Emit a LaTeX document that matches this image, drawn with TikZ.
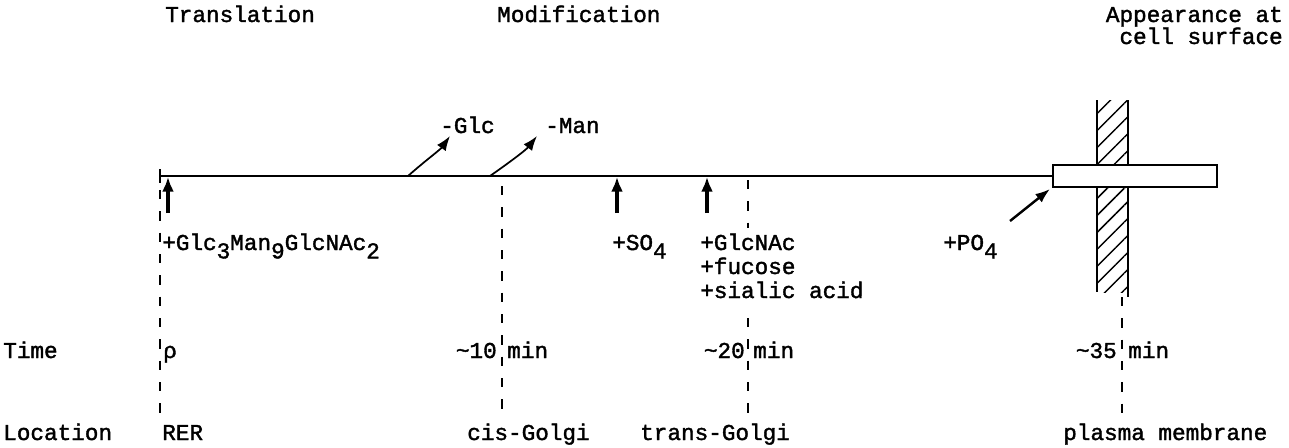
\documentclass[tikz,border=0pt]{standalone}
\usepackage{fontspec}
\newfontfamily\twfont[FakeBold=1.6]{Liberation Mono}
\usetikzlibrary{arrows.meta,patterns.meta}
\newcommand{\lowsub}[1]{\raisebox{-0.7ex}{#1}}

\begin{document}
\begin{tikzpicture}[x=0.75pt,y=-0.75pt,>={Latex[length=11pt,width=8pt]},
  lbl/.style={font=\twfont\fontsize{17}{20}\selectfont, inner sep=0pt, anchor=base west},
  guide/.style={dash pattern=on 7pt off 9pt, line width=0.8pt},
  uparrow/.style={-{Latex[length=11pt,width=9pt]}, line width=2.6pt},
  curvarrow/.style={->, line width=1.3pt}]

\useasboundingbox (0,0) rectangle (1289,447);

% Headings
\node[lbl] (transl) at (165,22) {Translation};
\node[lbl] (modif) at (497,22) {Modification};
\node[lbl, anchor=base east] (appear) at (1283,22) {Appearance at};
\node[lbl, anchor=base east] (surface) at (1283,44) {cell surface};

% Membrane (hatched) and the protein box across it
\fill[pattern={Lines[angle=45,distance=9pt,line width=1.1pt]}] (1097,100) rectangle (1128,292);
\draw[line width=1.2pt] (1097,100) -- (1097,292);
\draw[line width=1.2pt] (1128,100) -- (1128,297);

% Main time line
\coordinate (start) at (160,176);
\coordinate (boxl) at (1053,176);
\draw[line width=1.2pt] (start) -- (boxl);
\draw[line width=1pt] (160,169) -- (160,183);
\draw[line width=1.2pt, fill=white] (1053,165) rectangle (1217,187);

% Dashed guides down to the location row
\draw[guide] (160,190) -- (160,420);
\draw[guide] (502,186) -- (502,420);
\draw[guide] (748,180) -- (748,228);
\draw[guide] (748,318) -- (748,420);
\draw[guide] (1122,297) -- (1122,420);

% Removal of sugars
\coordinate (glcout) at (408,176);
\coordinate (glctip) at (450,136);
\coordinate (manout) at (490,176);
\coordinate (mantip) at (537,136);
\draw[curvarrow] (glcout) .. controls (426,160) and (440,150) .. (glctip);
\draw[curvarrow] (manout) .. controls (510,162) and (526,150) .. (mantip);
\node[lbl] (glc) at (440,133) {-Glc};
\node[lbl] (man) at (545,133) {-Man};

% Additions
\coordinate (oligoin) at (168,213);
\coordinate (oligoon) at (168,177);
\coordinate (so4in) at (617,213);
\coordinate (so4on) at (617,177);
\coordinate (gnacin) at (707,213);
\coordinate (gnacon) at (707,177);
\coordinate (po4in) at (1010,221);
\coordinate (po4on) at (1050,189);
\draw[uparrow] (oligoin) -- (oligoon);
\draw[uparrow] (so4in) -- (so4on);
\draw[uparrow] (gnacin) -- (gnacon);
\draw[curvarrow, line width=1.8pt] (po4in) -- (po4on);

\node[lbl] (oligo) at (162,250) {+Glc\lowsub{3}Man\lowsub{9}GlcNAc\lowsub{2}};
\node[lbl] (so4) at (612,250) {+SO\lowsub{4}};
\node[lbl] (gnac) at (700,250) {+GlcNAc};
\node[lbl] (fuc) at (700,274) {+fucose};
\node[lbl] (sial) at (700,298) {+sialic acid};
\node[lbl] (po4) at (943,250) {+PO\lowsub{4}};

% Time row
\node[lbl] (time) at (3,358) {Time};
\node[lbl] (t0) at (163,358) {ρ};
\node[lbl, anchor=base east] (t10) at (497,358) {\textasciitilde10};
\node[lbl] (t10u) at (507,358) {min};
\node[lbl, anchor=base east] (t20) at (745,358) {\textasciitilde20};
\node[lbl] (t20u) at (753,358) {min};
\node[lbl, anchor=base east] (t35) at (1117,358) {\textasciitilde35};
\node[lbl] (t35u) at (1128,358) {min};

% Location row
\node[lbl] (loc) at (3,440) {Location};
\node[lbl] (rer) at (162,440) {RER};
\node[lbl] (cis) at (467,440) {cis-Golgi};
\node[lbl] (trgolgi) at (640,440) {trans-Golgi};
\node[lbl] (plasma) at (1063,440) {plasma membrane};

\end{tikzpicture}
\end{document}
